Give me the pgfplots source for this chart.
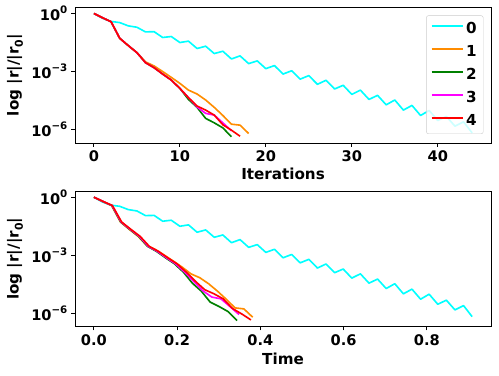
\documentclass[border=0pt]{standalone}
\usepackage{fontspec}
\setmainfont{DejaVu Sans}
\usepackage{pgfplots}
\usepackage{pgfplotstable}
\pgfplotsset{compat=1.18}

\definecolor{mcyan}{RGB}{0,255,255}
\definecolor{morange}{RGB}{255,140,0}
\definecolor{mgreen}{RGB}{0,128,0}
\definecolor{mmagenta}{RGB}{255,0,255}
\definecolor{mred}{RGB}{255,0,0}

\newcommand{\tsup}[1]{\raisebox{0.48em}{\fontsize{9.5}{10}\selectfont #1}}

% columns: iteration, time, residual
\pgfplotstableread{
it t r
0 0 1
1 .0207 0.562
2 .0413 0.389
3 .0620 0.339
4 .0826 0.229
5 .1033 0.195
6 .1240 0.112
7 .1446 0.115
8 .1653 0.0575
9 .1859 0.0646
10 .2066 0.0316
11 .2273 0.0372
12 .2479 0.0155
13 .2686 0.0204
14 .2892 0.00851
15 .3099 0.0112
16 .3306 0.00447
17 .3512 0.00646
18 .3719 0.00257
19 .3925 0.00355
20 .4132 0.00141
21 .4339 0.00204
22 .4545 7.41e-4
23 .4752 1.10e-3
24 .4958 4.07e-4
25 .5165 6.17e-4
26 .5372 2.19e-4
27 .5578 3.55e-4
28 .5785 1.26e-4
29 .5991 1.95e-4
30 .6198 6.61e-5
31 .6405 1.10e-4
32 .6611 3.63e-5
33 .6818 5.89e-5
34 .7024 1.91e-5
35 .7231 3.39e-5
36 .7438 1.02e-5
37 .7644 1.78e-5
38 .7851 5.37e-6
39 .8057 9.77e-6
40 .8264 2.95e-6
41 .8471 4.79e-6
42 .8677 1.51e-6
43 .8884 2.51e-6
44 .9090 6.76e-7
}\runzero

\pgfplotstableread{
it t r
0 0 1
1 .0212 0.603
2 .0424 0.372
3 .0636 0.0525
4 .0848 0.0219
5 .1060 0.00955
6 .1272 0.00316
7 .1484 0.00195
8 .1696 0.001
9 .1908 5.01e-4
10 .2120 2.45e-4
11 .2332 1.10e-4
12 .2544 6.92e-5
13 .2756 3.39e-5
14 .2968 1.41e-5
15 .3180 5.37e-6
16 .3392 1.91e-6
17 .3604 1.70e-6
18 .3816 6.31e-7
}\runone

\pgfplotstableread{
it t r
0 0 1
1 .0215 0.603
2 .0430 0.372
3 .0645 0.0525
4 .0860 0.0219
5 .1075 0.00955
6 .1290 0.00288
7 .1505 0.00158
8 .1720 7.41e-4
9 .1935 3.63e-4
10 .2150 1.35e-4
11 .2365 3.63e-5
12 .2580 1.41e-5
13 .2795 3.80e-6
14 .3010 2.24e-6
15 .3225 1.23e-6
16 .3440 4.27e-7
}\runtwo

\pgfplotstableread{
it t r
0 0 1
1 .0218 0.603
2 .0436 0.372
3 .0654 0.0525
4 .0872 0.0219
5 .1090 0.00955
6 .1308 0.00288
7 .1526 0.00158
8 .1744 7.41e-4
9 .1962 3.63e-4
10 .2180 1.35e-4
11 .2398 4.47e-5
12 .2616 1.48e-5
13 .2834 6.92e-6
14 .3052 5.62e-6
15 .3270 2.24e-6
16 .3488 8.71e-7
}\runthree

\pgfplotstableread{
it t r
0 0 1
1 .0222 0.603
2 .0444 0.372
3 .0666 0.0525
4 .0888 0.0219
5 .1110 0.00955
6 .1332 0.00288
7 .1554 0.00158
8 .1776 7.41e-4
9 .1998 3.63e-4
10 .2220 1.35e-4
11 .2442 4.47e-5
12 .2664 1.66e-5
13 .2886 1.02e-5
14 .3108 5.62e-6
15 .3330 1.78e-6
16 .3552 9.33e-7
17 .3774 4.57e-7
}\runfour

\pgfplotsset{
  resid/.style={
    ymin=2.04e-7, ymax=2.09,
    ytick={1e-6,1e-3,1},
    yticklabels={10\tsup{−6},10\tsup{−3},10\tsup{0}},
    yminorticks=false,
    tick align=outside,
    tick pos=left,
    major tick length=3.5pt,
    every tick/.style={black, line width=0.8pt},
    axis line style={black, line width=0.8pt},
    tick label style={font=\fontsize{13.5}{16}\selectfont\bfseries},
    ylabel={log |r|/|r\raisebox{-0.28em}{\fontsize{10}{10}\selectfont 0}|},
    every axis y label/.style={at={(axis description cs:0,0.5)}, xshift=-55.4pt,
      rotate=90, anchor=center, font=\fontsize{14}{16}\selectfont\bfseries},
  },
  run/.style={draw=#1, line width=1.5pt, line join=round},
}

\begin{document}
\begin{tikzpicture}
\useasboundingbox (0,0) rectangle (460.8pt,347.2pt);

\begin{axis}[
  ymode=log,
  scale only axis,
  width=384.2pt, height=125.3pt,
  anchor=north west,
  at={(69.26pt,340.46pt)},
  resid,
  xmin=-2.2, xmax=46.2,
  xtick={0,10,20,30,40},
  xticklabels={0,10,20,30,40},
  xlabel={Iterations},
  every axis x label/.style={at={(axis description cs:0.5,0)}, yshift=-28.8pt,
    anchor=center, font=\fontsize{14}{16}\selectfont\bfseries},
  legend style={at={(1,1)}, anchor=north east, xshift=-7pt, yshift=-7.5pt,
    draw=black!20, rounded corners=2pt, fill=white, fill opacity=0.8,
    text opacity=1, font=\fontsize{14}{16}\selectfont\bfseries,
    row sep=5.5pt, inner sep=4pt,
    nodes={inner sep=2pt}},
  legend cell align=left,
  legend image code/.code={\draw[#1, line width=1.8pt] (0pt,2.5pt) -- (29pt,2.5pt);},
]
\addplot[run=mcyan] table[x=it, y=r] {\runzero};
\addplot[run=morange] table[x=it, y=r] {\runone};
\addplot[run=mgreen] table[x=it, y=r] {\runtwo};
\addplot[run=mmagenta] table[x=it, y=r] {\runthree};
\addplot[run=mred] table[x=it, y=r] {\runfour};
\legend{0,1,2,3,4}
\end{axis}

\begin{axis}[
  ymode=log,
  scale only axis,
  width=384.2pt, height=125.3pt,
  anchor=north west,
  at={(69.26pt,170.8pt)},
  resid,
  xmin=-0.0455, xmax=0.9545,
  xtick={0,0.2,0.4,0.6,0.8},
  xticklabels={0.0,0.2,0.4,0.6,0.8},
  xlabel={Time},
  every axis x label/.style={at={(axis description cs:0.5,0)}, yshift=-30.1pt,
    anchor=center, font=\fontsize{14}{16}\selectfont\bfseries},
]
\addplot[run=mcyan] table[x=t, y=r] {\runzero};
\addplot[run=morange] table[x=t, y=r] {\runone};
\addplot[run=mgreen] table[x=t, y=r] {\runtwo};
\addplot[run=mmagenta] table[x=t, y=r] {\runthree};
\addplot[run=mred] table[x=t, y=r] {\runfour};
\end{axis}
\end{tikzpicture}
\end{document}
